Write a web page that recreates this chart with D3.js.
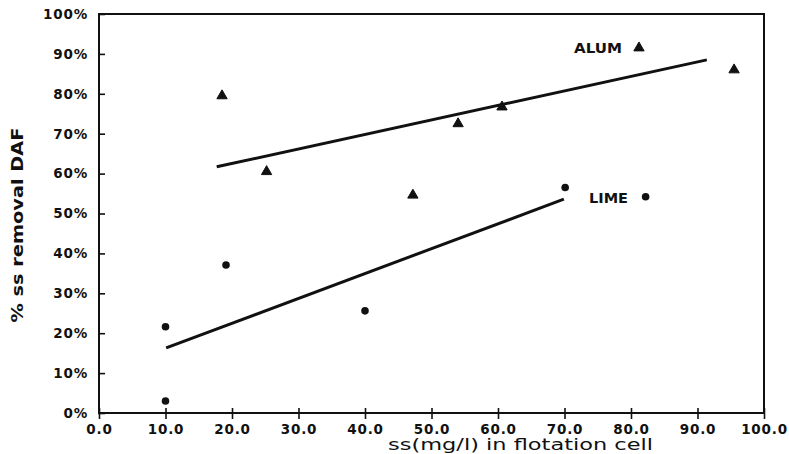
<!DOCTYPE html>
<html>
<head>
<meta charset="utf-8">
<script src="https://cdn.jsdelivr.net/npm/d3@7"></script>
<style>
  body { margin: 0; background: #fff; }
  text { font-family: "DejaVu Sans", sans-serif; fill: #111; }
</style>
</head>
<body>
<script>
// ALUM points (triangles)
var alumX = [18.5, 25.2, 47.2, 54.0, 60.6, 81.2, 95.5];
var alumY = [79.5, 60.5, 54.6, 72.5, 76.7, 91.5, 86.0];
// LIME points (dots)
var limeX = [10.0, 10.0, 19.1, 40.0, 70.1, 82.2];
var limeY = [21.6, 3.0, 37.1, 25.6, 56.5, 54.2];
// fitted lines, end points
var alumFitX = [17.7, 91.4];
var alumFitY = [61.7, 88.5];
var limeFitX = [10.1, 69.9];
var limeFitY = [16.3, 53.6];

var xTicks = [0, 10, 20, 30, 40, 50, 60, 70, 80, 90, 100];
var yTicks = [0, 10, 20, 30, 40, 50, 60, 70, 80, 90, 100];

var W = 789, H = 454;
var pLeft = 99, pRight = 764, pTop = 14, pBottom = 413;

var x = d3.scaleLinear().domain([0, 100]).range([pLeft, pRight]);
var y = d3.scaleLinear().domain([0, 100]).range([pBottom, pTop]);

var svg = d3.select("body").append("svg").attr("width", W).attr("height", H);

// frame
svg.append("rect")
    .attr("x", pLeft).attr("y", pTop)
    .attr("width", pRight - pLeft).attr("height", pBottom - pTop)
    .attr("fill", "none").attr("stroke", "#111").attr("stroke-width", 2);

var xAxis = d3.axisBottom(x)
    .tickValues(xTicks)
    .tickSizeInner(6).tickSizeOuter(0).tickPadding(5)
    .tickFormat(function(d){ return d3.format(".1f")(d); });

var gx = svg.append("g")
    .attr("transform", "translate(0," + pBottom + ")")
    .call(xAxis);
gx.select(".domain").remove();
gx.selectAll(".tick line").attr("y1", -5).attr("stroke", "#111").attr("stroke-width", 1.6);
gx.selectAll(".tick text")
    .attr("font-family", "DejaVu Sans").attr("font-weight", "bold").attr("font-size", 13.5)
    .attr("letter-spacing", 0.8)
    .attr("fill", "#111");

var yAxis = d3.axisLeft(y)
    .tickValues(yTicks)
    .tickSizeInner(-6).tickSizeOuter(0).tickPadding(11)
    .tickFormat(function(d){ return d + "%"; });

var gy = svg.append("g")
    .attr("transform", "translate(" + pLeft + ",0)")
    .call(yAxis);
gy.select(".domain").remove();
gy.selectAll(".tick line").attr("x1", -1).attr("stroke", "#111").attr("stroke-width", 1.6);
gy.selectAll(".tick text")
    .attr("font-family", "DejaVu Sans").attr("font-weight", "bold").attr("font-size", 13.5)
    .attr("letter-spacing", 0.8)
    .attr("fill", "#111");

// fitted lines
var line = d3.line()
    .x(function(d){ return x(d[0]); })
    .y(function(d){ return y(d[1]); });

svg.append("path")
    .datum(d3.zip(alumFitX, alumFitY))
    .attr("d", line)
    .attr("fill", "none").attr("stroke", "#111").attr("stroke-width", 3);

svg.append("path")
    .datum(d3.zip(limeFitX, limeFitY))
    .attr("d", line)
    .attr("fill", "none").attr("stroke", "#111").attr("stroke-width", 3);

// triangles
svg.selectAll("path.alum")
    .data(d3.zip(alumX, alumY))
    .enter().append("path")
        .attr("class", "alum")
        .attr("d", d3.symbol().type(d3.symbolTriangle).size(46))
        .attr("transform", function(d){ return "translate(" + x(d[0]) + "," + y(d[1]) + ")"; })
        .attr("fill", "#111")
        .attr("stroke", "#111").attr("stroke-width", 1).attr("stroke-linejoin", "round");

// dots
svg.selectAll("circle.lime")
    .data(d3.zip(limeX, limeY))
    .enter().append("circle")
        .attr("class", "lime")
        .attr("cx", function(d){ return x(d[0]); })
        .attr("cy", function(d){ return y(d[1]); })
        .attr("r", 3.8)
        .attr("fill", "#111");

// series labels
svg.append("text")
    .attr("x", 574).attr("y", 53)
    .attr("font-weight", "bold").attr("font-size", 14)
    .attr("textLength", 48).attr("lengthAdjust", "spacingAndGlyphs")
    .text("ALUM");

svg.append("text")
    .attr("x", 589).attr("y", 203)
    .attr("font-weight", "bold").attr("font-size", 14)
    .attr("textLength", 39).attr("lengthAdjust", "spacingAndGlyphs")
    .text("LIME");

// axis titles
svg.append("text")
    .attr("x", 388).attr("y", 450)
    .attr("font-size", 15.5)
    .attr("textLength", 265).attr("lengthAdjust", "spacingAndGlyphs")
    .text("ss(mg/l) in flotation cell");

svg.append("text")
    .attr("transform", "translate(23,225) rotate(-90)")
    .attr("text-anchor", "middle")
    .attr("font-weight", "bold").attr("font-size", 16)
    .attr("textLength", 195).attr("lengthAdjust", "spacingAndGlyphs")
    .text("% ss removal DAF");
</script>
</body>
</html>
